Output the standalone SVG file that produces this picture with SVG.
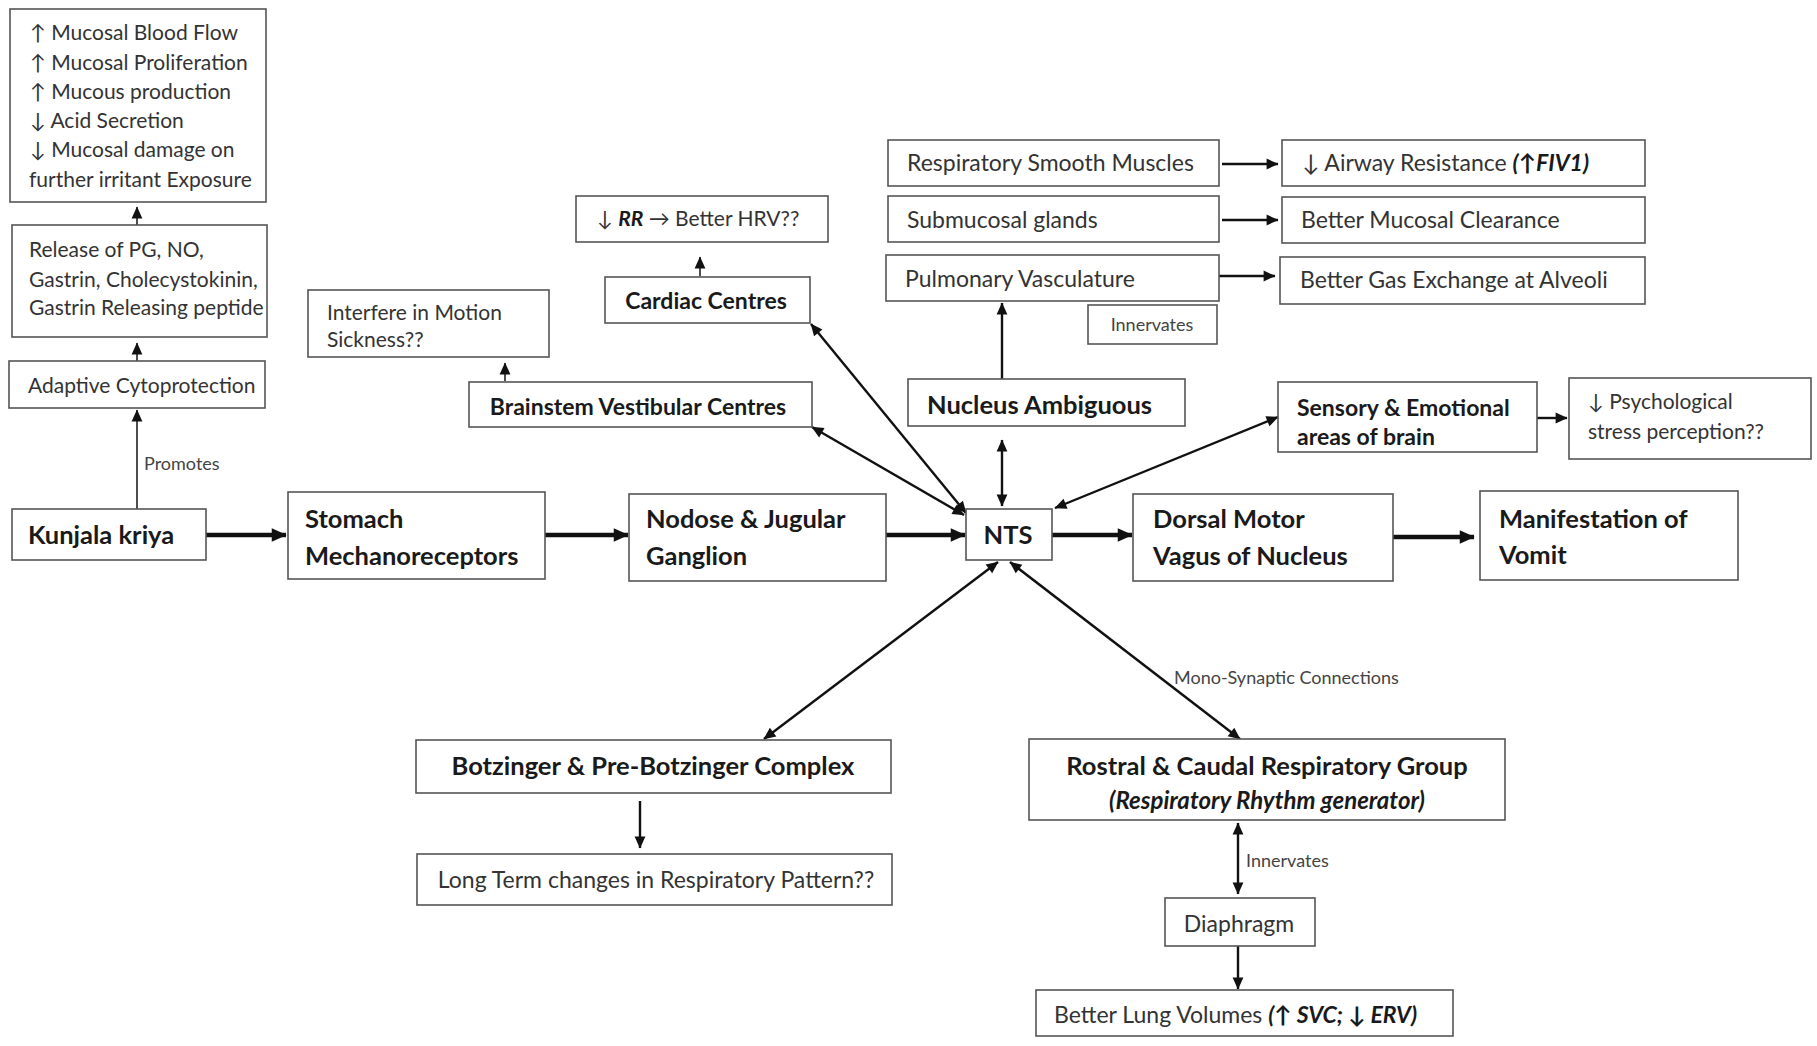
<svg xmlns="http://www.w3.org/2000/svg" width="1817" height="1046" viewBox="0 0 1817 1046">
<style>
.box{fill:#fff;stroke:#555;stroke-width:1.6}
.t{font-family:Lato,"Liberation Sans",sans-serif;font-size:23px;fill:#333}
.b{font-weight:bold;fill:#1a1a1a}
.big{font-size:25.5px}
.med{font-size:25.5px}
.m21{font-size:21px}
.sm{font-size:18px;fill:#444}
.bi{font-weight:bold;font-style:italic;fill:#1a1a1a}
.r2{font-size:24px}
.c{text-anchor:middle}
.ln{stroke:#111;stroke-width:2.4;fill:none}
.thin{stroke:#222;stroke-width:1.6;fill:none}
.thick{stroke:#111;stroke-width:4.5;fill:none}
</style>
<defs>
<marker id="ah" viewBox="0 0 10 10" refX="9.5" refY="5" markerWidth="14" markerHeight="12" markerUnits="userSpaceOnUse" orient="auto-start-reverse"><path d="M0,0.5 L10,5 L0,9.5 z" fill="#111"/></marker>
<marker id="ahT" viewBox="0 0 10 10" refX="9.5" refY="5" markerWidth="17" markerHeight="15" markerUnits="userSpaceOnUse" orient="auto-start-reverse"><path d="M0,0.5 L10,5 L0,9.5 z" fill="#111"/></marker>
<marker id="ahS" viewBox="0 0 10 10" refX="9.5" refY="5" markerWidth="13" markerHeight="12" markerUnits="userSpaceOnUse" orient="auto-start-reverse"><path d="M0,0.5 L10,5 L0,9.5 z" fill="#111"/></marker>
</defs>
<rect width="1817" height="1046" fill="#fff"/>

<g id="connectors">
<line class="thick" x1="206" y1="535" x2="286" y2="535" marker-end="url(#ahT)"/>
<line class="thick" x1="545" y1="535" x2="628" y2="535" marker-end="url(#ahT)"/>
<line class="thick" x1="886" y1="535" x2="965" y2="535" marker-end="url(#ahT)"/>
<line class="thick" x1="1052" y1="535" x2="1132" y2="535" marker-end="url(#ahT)"/>
<line class="thick" x1="1393" y1="537" x2="1474" y2="537" marker-end="url(#ahT)"/>
<line class="thin" x1="137" y1="509" x2="137" y2="410" marker-end="url(#ahS)"/>
<line class="thin" x1="137" y1="361" x2="137" y2="343" marker-end="url(#ahS)"/>
<line class="thin" x1="137" y1="225" x2="137" y2="207" marker-end="url(#ahS)"/>
<line class="thin" x1="505" y1="381" x2="505" y2="363" marker-end="url(#ahS)"/>
<line class="thin" x1="700" y1="276" x2="700" y2="257" marker-end="url(#ahS)"/>
<line class="ln" x1="1002" y1="379" x2="1002" y2="303" marker-end="url(#ah)"/>
<line class="ln" x1="1002" y1="440" x2="1002" y2="506" marker-start="url(#ah)" marker-end="url(#ah)"/>
<line class="ln" x1="811" y1="324" x2="966" y2="513" marker-start="url(#ah)" marker-end="url(#ah)"/>
<line class="ln" x1="812" y1="427" x2="964" y2="515" marker-start="url(#ah)" marker-end="url(#ah)"/>
<line class="ln" x1="1278" y1="417" x2="1055" y2="508" marker-start="url(#ah)" marker-end="url(#ah)"/>
<line class="ln" x1="998" y1="562" x2="764" y2="739" marker-start="url(#ah)" marker-end="url(#ah)"/>
<line class="ln" x1="1010" y1="562" x2="1240" y2="739" marker-start="url(#ah)" marker-end="url(#ah)"/>
<line class="ln" x1="1222" y1="164" x2="1278" y2="164" marker-end="url(#ah)"/>
<line class="ln" x1="1222" y1="220" x2="1278" y2="220" marker-end="url(#ah)"/>
<line class="ln" x1="1219" y1="276" x2="1275" y2="276" marker-end="url(#ah)"/>
<line class="ln" x1="1537" y1="418" x2="1567" y2="418" marker-end="url(#ah)"/>
<line class="ln" x1="640" y1="801" x2="640" y2="848" marker-end="url(#ah)"/>
<line class="ln" x1="1238" y1="823" x2="1238" y2="894" marker-start="url(#ah)" marker-end="url(#ah)"/>
<line class="ln" x1="1238" y1="946" x2="1238" y2="989" marker-end="url(#ah)"/>
<text class="t sm" x="144" y="470">Promotes</text>
<text class="t sm" x="1174" y="684">Mono-Synaptic Connections</text>
<text class="t sm" x="1246" y="867">Innervates</text>
</g>

<g id="mucosal"><rect class="box" x="10" y="9" width="256" height="193"/>
<text class="t m21" x="30" y="40">↑ Mucosal Blood Flow</text>
<text class="t m21" x="30" y="70">↑ Mucosal Proliferation</text>
<text class="t m21" x="30" y="99">↑ Mucous production</text>
<text class="t m21" x="30" y="128">↓ Acid Secretion</text>
<text class="t m21" x="30" y="157">↓ Mucosal damage on</text>
<text class="t m21" x="29" y="187">further irritant Exposure</text></g>

<g id="release"><rect class="box" x="12" y="225" width="255" height="112"/>
<text class="t m21" x="29" y="257">Release of PG, NO,</text>
<text class="t m21" x="29" y="287">Gastrin, Cholecystokinin,</text>
<text class="t m21" x="29" y="315">Gastrin Releasing peptide</text></g>

<g id="adaptive"><rect class="box" x="9" y="361" width="256" height="47"/>
<text class="t m21" x="28" y="393">Adaptive Cytoprotection</text></g>

<g id="kunjala"><rect class="box" x="12" y="509" width="194" height="51"/>
<text class="t b big" x="28" y="544">Kunjala kriya</text></g>

<g id="stomach"><rect class="box" x="288" y="492" width="257" height="87"/>
<text class="t b big" x="305" y="528">Stomach</text>
<text class="t b big" x="305" y="565">Mechanoreceptors</text></g>

<g id="nodose"><rect class="box" x="629" y="494" width="257" height="87"/>
<text class="t b big" x="646" y="528">Nodose &amp; Jugular</text>
<text class="t b big" x="646" y="565">Ganglion</text></g>

<g id="nts"><rect class="box" x="966" y="509" width="86" height="51"/>
<text class="t b big c" x="1008" y="544">NTS</text></g>

<g id="dorsal"><rect class="box" x="1133" y="494" width="260" height="87"/>
<text class="t b big" x="1153" y="528">Dorsal Motor</text>
<text class="t b big" x="1153" y="565">Vagus of Nucleus</text></g>

<g id="manifestation"><rect class="box" x="1480" y="491" width="258" height="89"/>
<text class="t b big" x="1499" y="528">Manifestation of</text>
<text class="t b big" x="1499" y="564">Vomit</text></g>

<g id="interfere"><rect class="box" x="308" y="290" width="241" height="67"/>
<text class="t m21" x="327" y="320">Interfere in Motion</text>
<text class="t m21" x="327" y="347">Sickness??</text></g>

<g id="brainstem"><rect class="box" x="469" y="382" width="343" height="45"/>
<text class="t b c" x="638" y="415">Brainstem Vestibular Centres</text></g>

<g id="cardiac"><rect class="box" x="605" y="277" width="205" height="46"/>
<text class="t b c" x="706" y="309">Cardiac Centres</text></g>

<g id="hrv"><rect class="box" x="576" y="196" width="252" height="46"/>
<text class="t m21" x="597" y="226">↓ <tspan class="bi">RR</tspan> → Better HRV??</text></g>

<g id="nucleus-ambiguous"><rect class="box" x="908" y="379" width="277" height="47"/>
<text class="t b med" x="927" y="414">Nucleus Ambiguous</text></g>

<g id="resp-smooth"><rect class="box" x="888" y="140" width="331" height="46"/>
<text class="t" x="907" y="171">Respiratory Smooth Muscles</text></g>

<g id="submucosal"><rect class="box" x="888" y="196" width="331" height="46"/>
<text class="t" x="907" y="228">Submucosal glands</text></g>

<g id="pulmonary"><rect class="box" x="886" y="255" width="333" height="46"/>
<text class="t" x="905" y="287">Pulmonary Vasculature</text></g>

<g id="innervates-box"><rect class="box" x="1088" y="305" width="129" height="39"/>
<text class="t sm c" x="1152" y="331">Innervates</text></g>

<g id="airway"><rect class="box" x="1282" y="140" width="363" height="46"/>
<text class="t" x="1302" y="171">↓ Airway Resistance <tspan class="bi">(↑FIV1)</tspan></text></g>

<g id="mucosal-clearance"><rect class="box" x="1282" y="197" width="363" height="46"/>
<text class="t" x="1301" y="228">Better Mucosal Clearance</text></g>

<g id="gas-exchange"><rect class="box" x="1280" y="257" width="365" height="47"/>
<text class="t" x="1300" y="288">Better Gas Exchange at Alveoli</text></g>

<g id="sensory"><rect class="box" x="1278" y="382" width="259" height="70"/>
<text class="t b" x="1297" y="416">Sensory &amp; Emotional</text>
<text class="t b" x="1297" y="445">areas of brain</text></g>

<g id="psych"><rect class="box" x="1569" y="378" width="242" height="81"/>
<text class="t m21" x="1588" y="409">↓ Psychological</text>
<text class="t m21" x="1588" y="439">stress perception??</text></g>

<g id="botzinger"><rect class="box" x="416" y="740" width="475" height="53"/>
<text class="t b med c" x="653" y="775">Botzinger &amp; Pre-Botzinger Complex</text></g>

<g id="long-term"><rect class="box" x="417" y="854" width="475" height="51"/>
<text class="t c" x="656" y="888">Long Term changes in Respiratory Pattern??</text></g>

<g id="rostral"><rect class="box" x="1029" y="739" width="476" height="81"/>
<text class="t b med c" x="1267" y="775">Rostral &amp; Caudal Respiratory Group</text>
<text class="t bi r2 c" x="1267" y="809">(Respiratory Rhythm generator)</text></g>

<g id="diaphragm"><rect class="box" x="1165" y="898" width="150" height="48"/>
<text class="t c" x="1239" y="932">Diaphragm</text></g>

<g id="lung-volumes"><rect class="box" x="1036" y="990" width="417" height="46"/>
<text class="t" x="1054" y="1023">Better Lung Volumes <tspan class="bi">(↑ SVC; ↓ ERV)</tspan></text></g>
</svg>
